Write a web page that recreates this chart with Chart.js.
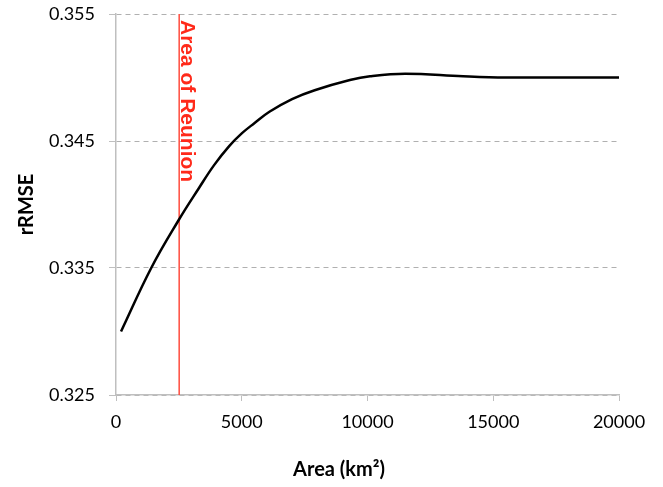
<!doctype html>
<html>
<head>
	<script src="https://cdn.jsdelivr.net/npm/chart.js@4"></script>
	<style>
	body { margin: 0; background: #fff; }
	#holder { width: 663px; height: 487px; }
	</style>
</head>
<body>
	<div id="holder"><canvas id="chart-area"></canvas></div>
	<script>
		// area (km2) and rRMSE
		var areas = [200, 1400, 2500, 3300, 3900, 4500, 5000, 5500, 6100, 7000, 7900, 9300, 10100, 11500, 13800, 15500, 17500, 20000];
		var rrmse = [0.3300, 0.3350, 0.3388, 0.3413, 0.3431, 0.3446, 0.3456, 0.3464, 0.3473, 0.3483, 0.3490, 0.3498, 0.3501, 0.3503, 0.3501, 0.3500, 0.3500, 0.3500];
		var yTicks = [0.325, 0.335, 0.345, 0.355];
		var xTicks = [0, 5000, 10000, 15000, 20000];
		var reunionArea = 2512;
		var reunionLabel = 'Area of Reunion';
		var xTitle = 'Area (km\u00b2)';
		var yTitle = 'rRMSE';

		var curve = areas.map(function(a, i) { return {x: a, y: rrmse[i]}; });
		var marker = [{x: reunionArea, y: yTicks[0]}, {x: reunionArea, y: yTicks[yTicks.length - 1]}];

		var labelsPlugin = {
			id: 'labels',
			afterDraw: function(chart) {
				var ctx = chart.ctx;
				var xs = chart.scales.x, ys = chart.scales.y;
				ctx.save();
				// red label along the marker line
				ctx.translate(xs.getPixelForValue(reunionArea) + 2, ys.getPixelForValue(yTicks[3]) + 6);
				ctx.rotate(Math.PI / 2);
				ctx.fillStyle = '#ff2a1a';
				ctx.font = 'bold 21px "Liberation Sans", Arial, sans-serif';
				ctx.textAlign = 'left';
				ctx.textBaseline = 'alphabetic';
				ctx.fillText(reunionLabel, 0, 0);
				ctx.restore();

				ctx.save();
				ctx.fillStyle = '#000';
				ctx.font = 'bold 20px Lato, sans-serif';
				ctx.textAlign = 'center';
				ctx.textBaseline = 'alphabetic';
				ctx.fillText(xTitle, 339, 476);
				ctx.restore();
			}
		};

		var config = {
			type: 'line',
			data: {
				datasets: [{
					data: curve,
					borderColor: '#000',
					borderWidth: 2.5,
					pointRadius: 0,
					tension: 0.4,
					fill: false
				}, {
					data: marker,
					borderColor: '#ff4b3e',
					borderWidth: 1.5,
					pointRadius: 0,
					tension: 0,
					fill: false
				}]
			},
			options: {
				responsive: true,
				maintainAspectRatio: false,
				animation: false,
				layout: { padding: { left: 0, right: 44, top: 14, bottom: 0 } },
				plugins: {
					legend: { display: false },
					tooltip: { enabled: false }
				},
				scales: {
					x: {
						type: 'linear',
						min: 0,
						max: 20000,
						afterBuildTicks: function(s) { s.ticks = xTicks.map(function(v) { return {value: v}; }); },
						afterFit: function(s) { s.height = 92; s.paddingLeft = 0; s.paddingRight = 0; },
						ticks: {
							color: '#000',
							font: { family: 'Lato', size: 18 },
							padding: 10,
							maxRotation: 0,
							callback: function(v) { return String(v); }
						},
						grid: {
							drawOnChartArea: false,
							color: '#bfbfbf',
							tickLength: 6
						},
						border: { color: '#bfbfbf', width: 1.5 }
					},
					y: {
						min: 0.325,
						max: 0.355,
						afterBuildTicks: function(s) { s.ticks = yTicks.map(function(v) { return {value: v}; }); },
						afterFit: function(s) { s.width = 116; s.paddingTop = 0; s.paddingBottom = 0; },
						ticks: {
							color: '#000',
							font: { family: 'Lato', size: 18 },
							padding: 14,
							callback: function(v) { return v.toFixed(3); }
						},
						grid: {
							color: '#b0b0b0',
							tickColor: '#bfbfbf',
							tickLength: 7
						},
						border: { color: '#bfbfbf', width: 1.5, dash: [5, 4] },
						title: {
							display: true,
							text: yTitle,
							color: '#000',
							font: { family: 'Lato', size: 20, weight: 'bold' },
							padding: { top: 15, bottom: 0 }
						}
					}
				}
			},
			plugins: [labelsPlugin]
		};

		window.onload = function() {
			var ctx = document.getElementById('chart-area').getContext('2d');
			window.myLine = new Chart(ctx, config);
		};
	</script>
</body>
</html>
